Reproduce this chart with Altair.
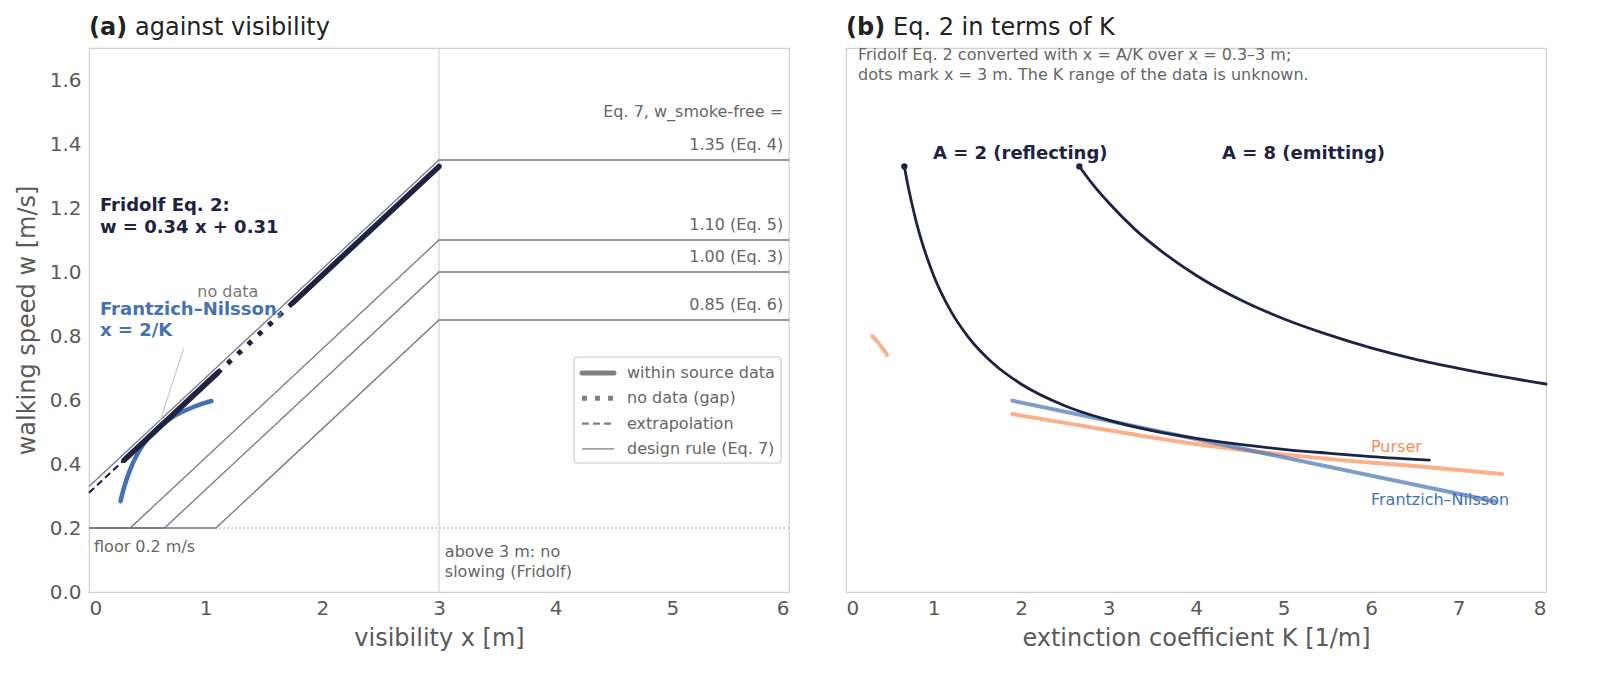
import altair as alt
import pandas as pd

NAVY = "#1d2340"
BLUE = "#4472b4"
ORANGE = "#fc8d59"
RULE = "#77778a"
GREY = "#666666"

# --- panel (a): Fridolf Eq. 2 pieces (x in m, w in m/s) ---
extrap_x = [0.0, 0.3]
extrap_w = [0.31, 0.412]
source1_x = [0.3, 1.1]
source1_w = [0.412, 0.684]
gap_x = [1.1, 1.75]
gap_w = [0.684, 0.905]
source2_x = [1.75, 3.0]
source2_w = [0.905, 1.33]

# Frantzich-Nilsson with x = 2/K
fn_x = [0.27, 0.30, 0.35, 0.40, 0.45, 0.50, 0.60, 0.70, 0.80, 0.90, 1.00, 1.05]
fn_w = [0.284, 0.326, 0.380, 0.421, 0.453, 0.478, 0.516, 0.543, 0.563, 0.579, 0.592, 0.597]

# design rule (Eq. 7) lines
w_smoke_free = [1.35, 1.10, 1.00, 0.85]
eq_names = ["Eq. 4", "Eq. 5", "Eq. 3", "Eq. 6"]
rule_x = [[0.0, 3.0, 6.0], [0.0, 0.353, 3.0, 6.0], [0.0, 0.647, 3.0, 6.0], [0.0, 1.088, 3.0, 6.0]]
rule_w = [[0.33, 1.35, 1.35], [0.2, 0.2, 1.10, 1.10], [0.2, 0.2, 1.00, 1.00], [0.2, 0.2, 0.85, 0.85]]

# --- panel (b): against extinction coefficient K ---
a2_k = [0.667, 0.7, 0.75, 0.8, 0.85, 0.9, 1.0, 1.2, 1.4, 1.7, 2.0, 2.5, 3.0, 3.5, 4.0, 4.5, 5.0, 5.5, 6.0, 6.667]
a2_w = [1.330, 1.281, 1.217, 1.160, 1.110, 1.066, 0.990, 0.877, 0.796, 0.710, 0.650, 0.582, 0.537,
        0.504, 0.480, 0.461, 0.446, 0.434, 0.423, 0.412]
a8_k = [2.667, 2.8, 3.0, 3.3, 3.6, 4.0, 4.5, 5.0, 5.5, 6.0, 6.5, 7.0, 7.5, 8.0]
a8_w = [1.330, 1.281, 1.217, 1.134, 1.066, 0.990, 0.914, 0.854, 0.805, 0.763, 0.728, 0.699, 0.673, 0.650]
dot_k = [0.667, 2.667]
dot_w = [1.33, 1.33]
fnk_k = [1.9, 7.42]
fnk_w = [0.598, 0.283]
purser_k = [1.9, 2.62, 3.41, 4.20, 4.99, 5.78, 6.57, 7.50]
purser_w = [0.556, 0.523, 0.487, 0.455, 0.430, 0.409, 0.392, 0.369]
purser_low_k = [0.30, 0.38, 0.47]
purser_low_w = [0.800, 0.775, 0.741]

W, H = 700, 544
y_scale = alt.Scale(domain=[0, 1.7], nice=False, zero=False)


def xy_df(xs, ws, **extra):
    df = pd.DataFrame({"x": xs, "w": ws, "o": range(len(xs))})
    for k, v in extra.items():
        df[k] = v
    return df


def make_enc(xdom, xtitle, yaxis):
    x = alt.X("x:Q", scale=alt.Scale(domain=xdom, nice=False, zero=False),
              axis=alt.Axis(values=list(range(xdom[1] + 1)), format="d", title=xtitle,
                            labelPadding=6, titlePadding=8))
    if yaxis:
        y = alt.Y("w:Q", scale=y_scale,
                  axis=alt.Axis(values=[0, 0.2, 0.4, 0.6, 0.8, 1.0, 1.2, 1.4, 1.6], format=".1f",
                                title="walking speed w [m/s]", labelPadding=8, titlePadding=10))
    else:
        y = alt.Y("w:Q", scale=y_scale, axis=None)
    return x, y


def line(df, x, y, color, width, dash=None, opacity=1.0, cap="round", detail=None, smooth=False):
    kw = dict(color=color, strokeWidth=width, opacity=opacity, strokeCap=cap)
    if dash:
        kw["strokeDash"] = dash
    if smooth:
        kw["interpolate"] = "monotone"
    enc = dict(x=x, y=y, order="o:Q")
    if detail:
        enc["detail"] = detail
    return alt.Chart(df).mark_line(**kw).encode(**enc)


def texts(rows, x, y, color, size, weight="normal", align="left", baseline="middle"):
    df = pd.DataFrame(rows, columns=["x", "w", "label"])
    return alt.Chart(df).mark_text(color=color, fontSize=size, fontWeight=weight,
                                   align=align, baseline=baseline).encode(x=x, y=y, text="label:N")


def pixel_text(label, px, py, size, weight="normal", color="#222222", align="left"):
    return alt.Chart(pd.DataFrame({"label": [label]})).mark_text(
        fontSize=size, fontWeight=weight, color=color, align=align, baseline="alphabetic"
    ).encode(x=alt.value(px), y=alt.value(py), text="label:N")


# ---------------- panel (a) ----------------
xa, ya = make_enc([0, 6], "visibility x [m]", True)

design_rows = []
for i, (xs, ws) in enumerate(zip(rule_x, rule_w)):
    for j, (xv, wv) in enumerate(zip(xs, ws)):
        design_rows.append({"x": xv, "w": wv, "o": j, "rule": eq_names[i]})
design_df = pd.DataFrame(design_rows)

vline = alt.Chart(pd.DataFrame({"x": [3.0]})).mark_rule(color="#d4d4d4", strokeWidth=1.2).encode(x=xa)
floor = alt.Chart(pd.DataFrame({"w": [0.2]})).mark_rule(
    color="#888888", strokeWidth=1.2, strokeDash=[1.5, 2.5]).encode(y=ya)
design = line(design_df, xa, ya, RULE, 1.3, cap="butt", detail="rule:N")

fn_curve = line(xy_df(fn_x, fn_w), xa, ya, BLUE, 4.5, smooth=True)
leader = alt.Chart(pd.DataFrame({"x": [0.81], "w": [0.76], "x2": [0.61], "w2": [0.535]})).mark_rule(
    color="#cccccc", strokeWidth=1.2).encode(x=xa, y=ya, x2="x2:Q", y2="w2:Q")

fr_extrap = line(xy_df(extrap_x, extrap_w), xa, ya, NAVY, 2.2, dash=[7, 4], cap="butt")
fr_src1 = line(xy_df(source1_x, source1_w), xa, ya, NAVY, 5.5)
fr_gap = line(xy_df(gap_x, gap_w), xa, ya, NAVY, 5, dash=[5, 9], cap="butt")
fr_src2 = line(xy_df(source2_x, source2_w), xa, ya, NAVY, 5.5)

label_a = [
    texts([(0.094, 1.206, "Fridolf Eq. 2:"), (0.094, 1.1375, "w = 0.34 x + 0.31")], xa, ya, NAVY, 18, "bold"),
    texts([(0.094, 0.881, "Frantzich–Nilsson,"), (0.094, 0.816, "x = 2/K")], xa, ya, BLUE, 18, "bold"),
    texts([(1.19, 0.9375, "no data")], xa, ya, "#777777", 16, align="center"),
    texts([(0.043, 0.141, "floor 0.2 m/s"), (3.05, 0.125, "above 3 m: no"),
           (3.05, 0.0625, "slowing (Fridolf)")], xa, ya, GREY, 16),
    texts([(5.95, 1.5, "Eq. 7, w_smoke-free =")]
          + [(5.95, v + 0.047, f"{v:.2f} ({e})") for v, e in zip(w_smoke_free, eq_names)],
          xa, ya, GREY, 16, align="right"),
]

# legend drawn inside the plot area
leg_box = alt.Chart(pd.DataFrame({"a": [0]})).mark_rect(
    fill="white", stroke="#cccccc", strokeWidth=1.2, cornerRadius=3).encode(
    x=alt.value(485), x2=alt.value(692), y=alt.value(309), y2=alt.value(415))
leg_items = [
    ("within source data", 5, None, "round"),
    ("no data (gap)", 5, [5, 8], "butt"),
    ("extrapolation", 2.2, [7, 4], "butt"),
    ("design rule (Eq. 7)", 1.3, None, "butt"),
]
legend = [leg_box]
for i, (lab, sw, dash, cap) in enumerate(leg_items):
    py = 325 + i * 25.3
    kw = dict(color="#808080", strokeWidth=sw, strokeCap=cap)
    if dash:
        kw["strokeDash"] = dash
    legend.append(alt.Chart(pd.DataFrame({"a": [0]})).mark_rule(**kw).encode(
        x=alt.value(493), x2=alt.value(525), y=alt.value(py)))
    legend.append(alt.Chart(pd.DataFrame({"label": [lab]})).mark_text(
        fontSize=16, color=GREY, align="left", baseline="middle").encode(
        x=alt.value(538), y=alt.value(py), text="label:N"))

title_a = [pixel_text("(a)", 0, -13, 24, "bold"), pixel_text("against visibility", 46, -13, 24)]

panel_a = alt.layer(
    vline, floor, design, fn_curve, leader, fr_extrap, fr_src1, fr_gap, fr_src2,
    *label_a, *legend, *title_a
).properties(width=W, height=H)

# ---------------- panel (b) ----------------
xb, yb = make_enc([0, 8], "extinction coefficient K [1/m]", False)

a_curves = line(pd.concat([xy_df(a2_k, a2_w, A="2"), xy_df(a8_k, a8_w, A="8")]),
                xb, yb, NAVY, 2.8, detail="A:N", smooth=True)
dots = alt.Chart(xy_df(dot_k, dot_w)).mark_circle(size=40, color=NAVY, opacity=1).encode(x=xb, y=yb)
fn_k_line = line(xy_df(fnk_k, fnk_w), xb, yb, BLUE, 4, opacity=0.7)
purser = line(pd.concat([xy_df(purser_k, purser_w, s="main"), xy_df(purser_low_k, purser_low_w, s="low")]),
              xb, yb, ORANGE, 4, opacity=0.7, detail="s:N", smooth=True)

label_b = [
    texts([(0.137, 1.678, "Fridolf Eq. 2 converted with x = A/K over x = 0.3–3 m;"),
           (0.137, 1.616, "dots mark x = 3 m. The K range of the data is unknown.")], xb, yb, GREY, 16),
    texts([(0.994, 1.369, "A = 2 (reflecting)"), (4.297, 1.369, "A = 8 (emitting)")], xb, yb, NAVY, 18, "bold"),
    texts([(6.0, 0.453, "Purser")], xb, yb, "#f28e5b", 16),
    texts([(6.0, 0.2875, "Frantzich–Nilsson")], xb, yb, BLUE, 16),
]
title_b = [pixel_text("(b)", 0, -13, 24, "bold"), pixel_text("Eq. 2 in terms of K", 47, -13, 24)]

panel_b = alt.layer(
    purser, fn_k_line, a_curves, dots, *label_b, *title_b
).properties(width=W, height=H)

chart = alt.hconcat(panel_a, panel_b, spacing=57, bounds="flush").properties(
    padding={"left": 6, "top": 7, "right": 5, "bottom": 5}
).configure(font="DejaVu Sans").configure_view(
    stroke="#d0d0d0", strokeWidth=1.2
).configure_axis(
    domain=False, ticks=False, grid=False, labelFontSize=20, labelColor="#5a5a5a",
    titleFontSize=24, titleColor="#5a5a5a", titleFontWeight="normal"
)

chart.save("out.html", embed_options={"renderer": "svg", "actions": False})
